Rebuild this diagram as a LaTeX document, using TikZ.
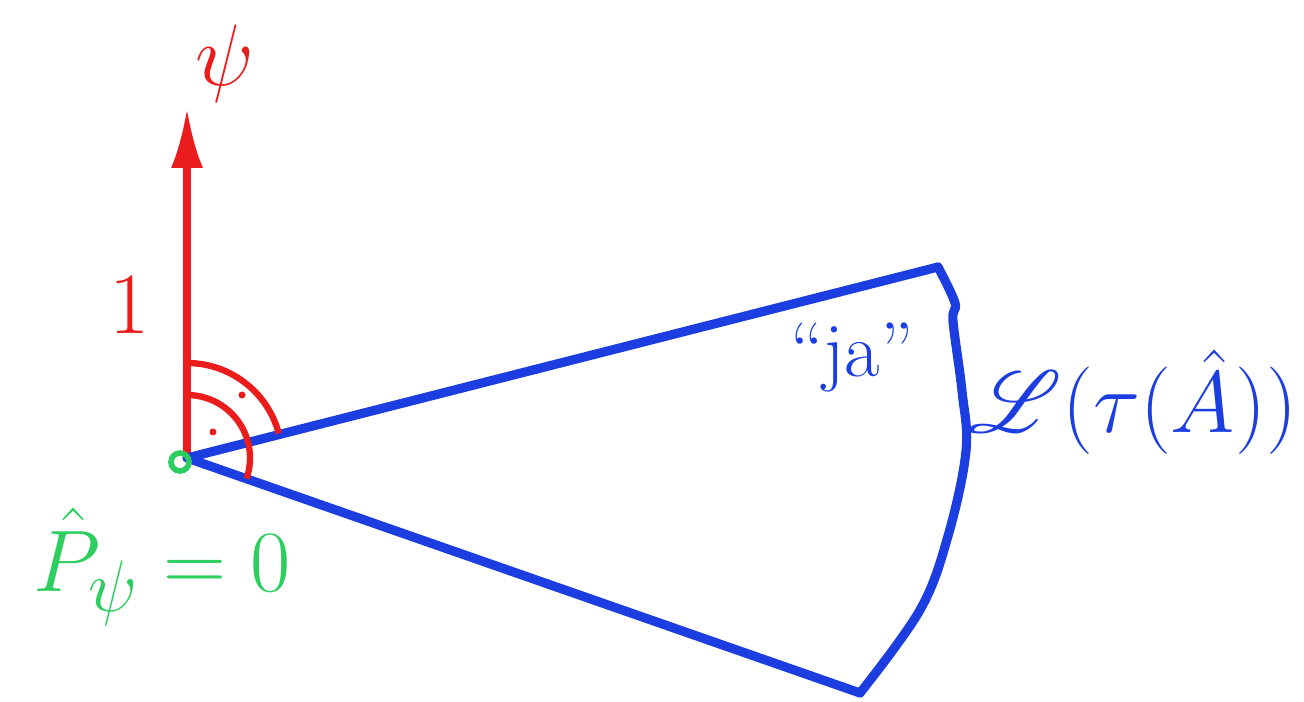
\documentclass[tikz,border=0pt]{standalone}
\usepackage{amsmath}
\usepackage{mathrsfs}
\usetikzlibrary{arrows.meta}
\definecolor{penred}{RGB}{235,28,28}
\definecolor{penblue}{RGB}{28,62,225}
\definecolor{pengreen}{RGB}{45,205,95}
\begin{document}
\begin{tikzpicture}[x=1cm,y=1cm,
    vec/.style={draw=penred,line width=2pt,-{Latex[length=0.6cm,width=0.32cm]}},
    anglemark/.style={draw=penred,line width=1.8pt},
    cone/.style={draw=penblue,line width=2.6pt,line join=round,line cap=round},
    lbl/.style={inner sep=0pt}]
  \useasboundingbox (0,0) rectangle (13.04,7.01);
  \coordinate (O) at (1.87,2.43);
  \coordinate (tip) at (1.87,5.93);
  \coordinate (up) at (9.38,4.34);
  \coordinate (down) at (8.60,0.08);
  % state vector
  \draw[vec] (O) -- (tip);
  \node[lbl,text=penred,font=\fontsize{30}{30}\selectfont] (psi) at (2.25,6.37) {$\psi$};
  \node[lbl,text=penred,font=\fontsize{26}{26}\selectfont] (one) at (1.30,3.96) {$1$};
  % cone
  \draw[cone] (down) -- (O) -- (up);
  \draw[cone] plot[smooth,tension=0.6] coordinates {(up) (9.55,3.98) (9.53,3.80)
    (9.62,3.10) (9.66,2.50) (9.48,1.65) (9.20,0.91) (down)};
  \node[lbl,text=penblue,font=\fontsize{22}{22}\selectfont] (ja) at (8.52,3.43) {``ja''};
  \node[lbl,text=penblue,font=\fontsize{24}{24}\selectfont] (cal) at (11.33,2.99)
    {$\mathscr{L}(\tau(\hat{A}))$};
  % right angle marks
  \draw[anglemark] ([shift={(90:0.95)}]O) arc[start angle=90,end angle=15,radius=0.95];
  \draw[anglemark] ([shift={(90:0.63)}]O) arc[start angle=90,end angle=-19,radius=0.63];
  \fill[penred] (2.42,3.06) circle (0.035);
  \fill[penred] (2.13,2.69) circle (0.035);
  % projector
  \draw[pengreen,line width=1.6pt] (1.80,2.39) circle (0.09);
  \node[lbl,text=pengreen,font=\fontsize{30}{30}\selectfont] (proj) at (1.62,1.34)
    {$\hat{P}_{\psi}=0$};
\end{tikzpicture}
\end{document}
